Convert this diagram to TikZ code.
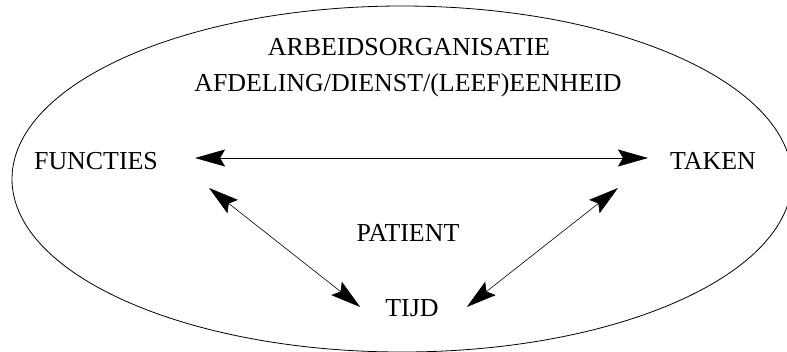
\documentclass[tikz,border=0pt]{standalone}
\usepackage{fontspec}
\setmainfont{Liberation Serif}
\usetikzlibrary{arrows.meta}
\tikzset{
  etiqueta/.style={inner sep=0pt, font=\fontsize{26}{30}\selectfont},
  flecha/.style={{Stealth[length=30bp,width=17bp,inset=5bp]}-{Stealth[length=30bp,width=17bp,inset=5bp]}, line width=0.6bp}
}
\begin{document}
\begin{tikzpicture}[x=1bp,y=-1bp]
        \useasboundingbox (0,0) rectangle (787,351);
        % Elipse
        \draw[line width=0.8bp] (402,179) ellipse [x radius=390, y radius=173];

        % Textos
        \node[etiqueta] (org) at (409,47) {ARBEIDSORGANISATIE};
        \node[etiqueta] (afd) at (408,85) {AFDELING/DIENST/(LEEF)EENHEID};
        \node[etiqueta] (functies) at (96,161) {FUNCTIES};
        \node[etiqueta] (taken) at (713,161) {TAKEN};
        \node[etiqueta] (patient) at (408,233) {PATIENT};
        \node[etiqueta] (tijd) at (412,308) {TIJD};

        % Flechas
        \draw[flecha] ([xshift=37bp,yshift=3bp]functies.east) -- ([xshift=-22bp,yshift=3bp]taken.west);
        \draw[flecha] ([xshift=51bp,yshift=-27bp]functies.east) -- ([xshift=-25bp,yshift=1bp]tijd.west);
        \draw[flecha] ([xshift=-52bp,yshift=-27bp]taken.west) -- ([xshift=28bp,yshift=1bp]tijd.east);
\end{tikzpicture}
\end{document}
